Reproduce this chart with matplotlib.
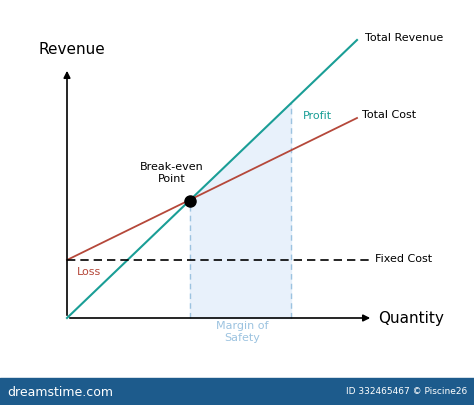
import matplotlib
matplotlib.use("Agg")
import matplotlib.pyplot as plt
import numpy as np

# data (units: quantity, money) origin at axes corner
quantity = [0, 290]
total_revenue = [0, 278]
total_cost = [58, 200]
fixed_cost = 58
break_even = (123, 117)
safety_end = 224

fig = plt.figure(figsize=(4.74, 4.05), dpi=100)
ax = fig.add_axes([0, 0, 1, 1])
ax.set_xlim(-67, 407)
ax.set_ylim(-87, 318)
ax.axis("off")

teal = "#1a9e96"
red = "#b5483a"
lb = "#9cc3e0"

def rev(x):
    return np.interp(x, quantity, total_revenue)

xs = np.array([break_even[0], safety_end])
ax.fill_between(xs, 0, rev(xs), color="#e8f1fb", zorder=1)
for xv in xs:
    ax.plot([xv, xv], [0, rev(xv)], color=lb, ls=(0, (4, 3)), lw=1, zorder=2)

ax.plot(quantity, total_revenue, color=teal, lw=1.5, zorder=3)
ax.plot(quantity, total_cost, color=red, lw=1.3, zorder=3)
ax.plot([0, 303], [fixed_cost, fixed_cost], color="black", ls=(0, (5, 3)), lw=1.2, zorder=3)
ax.plot(*break_even, "o", color="black", ms=8, zorder=4)

ax.annotate("", xy=(0, 250), xytext=(0, 0), arrowprops=dict(arrowstyle="-|>", color="black", lw=1.2))
ax.annotate("", xy=(306, 0), xytext=(0, 0), arrowprops=dict(arrowstyle="-|>", color="black", lw=1.2))

ax.text(-29, 268, "Revenue", fontsize=11, va="center")
ax.text(311, 0, "Quantity", fontsize=11, va="center")
ax.text(298, 280, "Total Revenue", fontsize=8, va="center")
ax.text(295, 203, "Total Cost", fontsize=8, va="center")
ax.text(308, 59, "Fixed Cost", fontsize=8, va="center")
ax.text(236, 202, "Profit", fontsize=8, color=teal, va="center")
ax.text(10, 46, "Loss", fontsize=8, color=red, va="center")
ax.text(105, 145, "Break-even\nPoint", fontsize=8, ha="center", va="center")
ax.text(175, -14, "Margin of\nSafety", fontsize=8, color=lb, ha="center", va="center")

ax.fill_between([-67, 407], -87, -60, color="#1d5b8c", zorder=5)
ax.text(-60, -74, "dreamstime.com", color="white", fontsize=9, va="center", zorder=6)
ax.text(400, -74, "ID 332465467 © Piscine26", color="white", fontsize=6.5, ha="right", va="center", zorder=6)

fig.savefig("out.png", dpi=100)
